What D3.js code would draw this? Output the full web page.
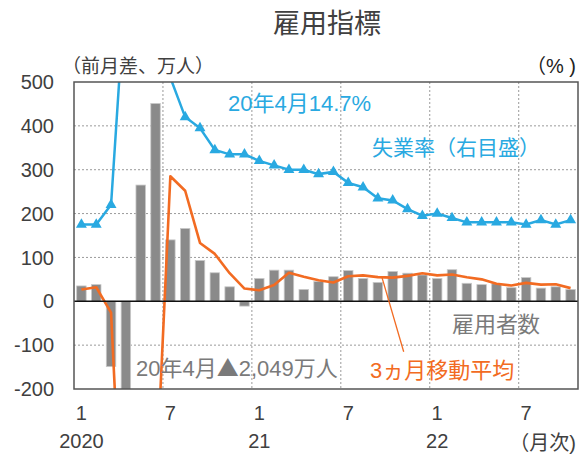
<!DOCTYPE html>
<html>
<head>
<meta charset="utf-8">
<script src="https://cdn.jsdelivr.net/npm/d3@7"></script>
<style>
  body { margin: 0; background: #fff; }
  text { font-family: "Liberation Sans", "Noto Sans CJK JP", sans-serif; }
</style>
</head>
<body>
<div id="chart"></div>
<script>
const width = 579;
const height = 459;

// months Jan 2020 - Oct 2022
const months = [
  "2020-01","2020-02","2020-03","2020-04","2020-05","2020-06","2020-07","2020-08","2020-09","2020-10","2020-11","2020-12",
  "2021-01","2021-02","2021-03","2021-04","2021-05","2021-06","2021-07","2021-08","2021-09","2021-10","2021-11","2021-12",
  "2022-01","2022-02","2022-03","2022-04","2022-05","2022-06","2022-07","2022-08","2022-09","2022-10"
];

// 雇用者数 前月差 (万人)
const payroll = [35, 38, -149, -2049, 265, 451, 140, 166, 93, 65, 33, -11,
  52, 71, 71, 27, 45, 56, 70, 52, 43, 68, 64, 60,
  52, 72, 41, 38, 40, 31, 54, 30, 33, 27];

// 3ヵ月移動平均 (万人)
const movingAvg = [27, 32, -26, -720, -644, -444, 285, 252, 133, 108, 64, 29,
  25, 37, 65, 56, 48, 43, 57, 59, 55, 54, 58, 64,
  59, 61, 55, 50, 40, 36, 42, 38, 39, 30];

// 失業率 (%)
const unemployment = [3.5, 3.5, 4.4, 14.7, 13.2, 11.0, 10.2, 8.4, 7.9, 6.9, 6.7, 6.7,
  6.4, 6.2, 6.0, 6.0, 5.8, 5.9, 5.4, 5.2, 4.7, 4.6, 4.2, 3.9,
  4.0, 3.8, 3.6, 3.6, 3.6, 3.6, 3.5, 3.7, 3.5, 3.7];

const yTicks = [500, 400, 300, 200, 100, 0, -100, -200];
const tickMonths = ["2020-01", "2020-07", "2021-01", "2021-07", "2022-01", "2022-07"];
const tickMonthLabels = ["1", "7", "1", "7", "1", "7"];
const tickYearLabels = ["2020", "", "21", "", "22", ""];

const blue = "#29a9e1";
const orange = "#f26b22";
const grey = "#8a8a8a";
const textCol = "#404040";

const plot = { left: 74, right: 578, top: 82, bottom: 389 };

const svg = d3.select("#chart")
  .append("svg")
  .attr("width", width)
  .attr("height", height);

const x = d3.scaleBand()
  .domain(months)
  .range([plot.left, plot.right])
  .paddingInner(0.36)
  .paddingOuter(0.18);
const step = x.step();
const xc = m => x(m) + x.bandwidth() / 2;

const y = d3.scaleLinear().domain([-200, 500]).range([plot.bottom, plot.top]);
const yR = d3.scaleLinear().domain([-4, 10]).range([plot.bottom, plot.top]);

svg.append("defs").append("clipPath").attr("id", "plotClip")
  .append("rect")
  .attr("x", plot.left).attr("y", plot.top)
  .attr("width", plot.right - plot.left).attr("height", plot.bottom - plot.top);

// grid
svg.append("g").selectAll("line")
  .data(yTicks.filter(d => d !== 0 && d !== 500 && d !== -200))
  .enter().append("line")
  .attr("x1", plot.left).attr("x2", plot.right)
  .attr("y1", d => y(d)).attr("y2", d => y(d))
  .attr("stroke", "#9a9a9a").attr("stroke-width", 1).attr("stroke-dasharray", "2,2");

svg.append("g").selectAll("line")
  .data(tickMonths.slice(1))
  .enter().append("line")
  .attr("x1", d => xc(d) - step / 2).attr("x2", d => xc(d) - step / 2)
  .attr("y1", plot.top).attr("y2", plot.bottom)
  .attr("stroke", "#9a9a9a").attr("stroke-width", 1).attr("stroke-dasharray", "2,2");

const g = svg.append("g").attr("clip-path", "url(#plotClip)");

// bars
g.selectAll("rect.bar")
  .data(months)
  .enter().append("rect")
  .attr("class", "bar")
  .attr("x", d => x(d))
  .attr("width", x.bandwidth())
  .attr("y", (d, i) => y(Math.max(0, payroll[i])))
  .attr("height", (d, i) => Math.abs(y(payroll[i]) - y(0)))
  .attr("fill", grey)
  .attr("stroke", "#c8c8c8")
  .attr("stroke-width", 0.8);

// zero line
svg.append("line")
  .attr("x1", plot.left).attr("x2", plot.right)
  .attr("y1", y(0)).attr("y2", y(0))
  .attr("stroke", "#111").attr("stroke-width", 1.5);

// moving average
g.append("path")
  .datum(movingAvg)
  .attr("fill", "none")
  .attr("stroke", orange)
  .attr("stroke-width", 2.6)
  .attr("stroke-linejoin", "round")
  .attr("d", d3.line().x((d, i) => xc(months[i])).y(d => y(d)));

// unemployment rate
g.append("path")
  .datum(unemployment)
  .attr("fill", "none")
  .attr("stroke", blue)
  .attr("stroke-width", 2.5)
  .attr("d", d3.line().x((d, i) => xc(months[i])).y(d => yR(d)));

g.selectAll("path.tri")
  .data(unemployment)
  .enter().append("path")
  .attr("class", "tri")
  .attr("transform", (d, i) => `translate(${xc(months[i])},${yR(d)})`)
  .attr("d", d3.symbol().type(d3.symbolTriangle).size(52))
  .attr("fill", blue);

// frame
svg.append("rect")
  .attr("x", plot.left).attr("y", plot.top)
  .attr("width", plot.right - plot.left).attr("height", plot.bottom - plot.top)
  .attr("fill", "none").attr("stroke", "#555").attr("stroke-width", 1.5);

// y tick labels
svg.append("g").selectAll("text")
  .data(yTicks)
  .enter().append("text")
  .attr("x", 54).attr("y", d => y(d))
  .attr("dy", "0.36em")
  .attr("text-anchor", "end")
  .attr("font-size", 20)
  .attr("fill", textCol)
  .text(d => d);

// x tick labels
svg.append("g").selectAll("text")
  .data(tickMonths)
  .enter().append("text")
  .attr("x", d => xc(d)).attr("y", 420)
  .attr("text-anchor", "middle")
  .attr("font-size", 20)
  .attr("fill", textCol)
  .text((d, i) => tickMonthLabels[i]);

svg.append("g").selectAll("text")
  .data(tickMonths)
  .enter().append("text")
  .attr("x", d => xc(d)).attr("y", 448)
  .attr("text-anchor", "middle")
  .attr("font-size", 20)
  .attr("fill", textCol)
  .text((d, i) => tickYearLabels[i]);

// titles & units
svg.append("text").attr("x", 327).attr("y", 33).attr("text-anchor", "middle")
  .attr("font-size", 27).attr("fill", textCol).text("雇用指標");
svg.append("text").attr("x", 62).attr("y", 73)
  .attr("font-size", 19).attr("fill", textCol).text("（前月差、万人）");
svg.append("text").attr("x", 576).attr("y", 73).attr("text-anchor", "end")
  .attr("font-size", 20).attr("fill", "#222").text("（% )");
svg.append("text").attr("x", 576).attr("y", 450).attr("text-anchor", "end")
  .attr("font-size", 20).attr("fill", textCol).text("（月次)");

// annotations
svg.append("text").attr("x", 228).attr("y", 111)
  .attr("font-size", 22).attr("fill", blue).text("20年4月14.7%");
svg.append("text").attr("x", 372).attr("y", 155)
  .attr("font-size", 21).attr("fill", blue).text("失業率（右目盛）");
svg.append("text").attr("x", 452).attr("y", 332)
  .attr("font-size", 22).attr("fill", "#7a7a7a").text("雇用者数");
const note = svg.append("text").attr("x", 136).attr("y", 376)
  .attr("font-size", 22).attr("fill", "#7a7a7a");
note.append("tspan").text("20年4月");
note.append("tspan").style("font-family", "'Noto Sans CJK JP'").text("▲");
note.append("tspan").text("2,049万人");
svg.append("text").attr("x", 370).attr("y", 378)
  .attr("font-size", 22).attr("fill", orange).text("3ヵ月移動平均");

// leader line to moving average
svg.append("line")
  .attr("x1", xc(months[20]) + 4).attr("y1", y(55))
  .attr("x2", xc(months[21]) + 11).attr("y2", y(-115))
  .attr("stroke", orange).attr("stroke-width", 1.3);
</script>
</body>
</html>
